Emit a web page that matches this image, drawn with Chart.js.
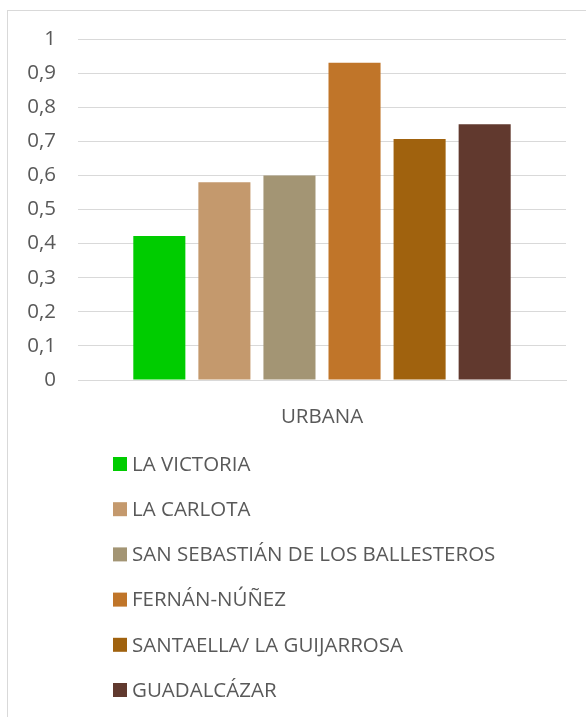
<!DOCTYPE html>
<html lang="es">
<head>
<meta charset="UTF-8" />
<title>Urbana</title>
<style>
  body { margin: 0; padding: 0; background: #fff; overflow: hidden; }
  #frame {
    position: absolute; left: 7px; top: 10px;
    width: 620px; height: 760px;
    border: 1px solid #d9d9d9; box-sizing: border-box;
  }
  #wrap { position: absolute; left: 0; top: 0; width: 586px; height: 717px; }
</style>
<script src="https://cdn.jsdelivr.net/npm/chart.js"></script>
</head>
<body>
<div id="frame"></div>
<div id="wrap"><canvas id="chart" width="586" height="717"></canvas></div>
<script>
const categories = ["URBANA"];
const seriesNames = [
  "LA VICTORIA",
  "LA CARLOTA",
  "SAN SEBASTIÁN DE LOS BALLESTEROS",
  "FERNÁN-NÚÑEZ",
  "SANTAELLA/ LA GUIJARROSA",
  "GUADALCÁZAR"
];
const seriesValues = [0.422, 0.58, 0.60, 0.93, 0.707, 0.75];
const seriesColors = ["#00cc00", "#c4996d", "#a39574", "#c07529", "#a0620e", "#61392e"];
const yTicks = [0, 0.1, 0.2, 0.3, 0.4, 0.5, 0.6, 0.7, 0.8, 0.9, 1];

const FONT = "'Open Sans', sans-serif";
const TEXT = "#595959";

// vertical legend drawn under the axis, one entry per line
const listLegend = {
  id: "listLegend",
  afterDraw(chart) {
    const ctx = chart.ctx;
    ctx.save();
    ctx.font = "20.5px " + FONT;
    ctx.textBaseline = "middle";
    chart.data.datasets.forEach((ds, i) => {
      const y = 464 + i * 45.2;
      ctx.fillStyle = ds.backgroundColor;
      ctx.fillRect(113, y - 7, 14, 14);
      ctx.fillStyle = TEXT;
      ctx.fillText(ds.label, 132, y + 1);
    });
    ctx.restore();
  }
};

new Chart(document.getElementById("chart"), {
  type: "bar",
  data: {
    labels: categories,
    datasets: seriesNames.map((name, i) => ({
      label: name,
      data: [seriesValues[i]],
      backgroundColor: seriesColors[i],
      categoryPercentage: 0.8,
      barPercentage: 0.8
    }))
  },
  options: {
    responsive: false,
    animation: false,
    layout: { padding: { top: 39, right: 20, left: 0, bottom: 0 } },
    plugins: { legend: { display: false }, tooltip: { enabled: false } },
    scales: {
      x: {
        grid: { display: false },
        border: { color: "#d9d9d9", width: 1 },
        ticks: { color: TEXT, font: { family: FONT, size: 20.5 }, padding: 17 },
        afterFit(scale) { scale.height = 337; }
      },
      y: {
        min: 0, max: 1,
        afterBuildTicks(scale) { scale.ticks = yTicks.map(v => ({ value: v })); },
        grid: { color: "#d9d9d9", drawTicks: false },
        border: { display: false },
        ticks: {
          color: TEXT, font: { family: FONT, size: 20.5 }, padding: 22,
          callback: v => String(v).replace(".", ",")
        },
        afterFit(scale) { scale.width = 78; }
      }
    }
  },
  plugins: [listLegend]
});
</script>
</body>
</html>
